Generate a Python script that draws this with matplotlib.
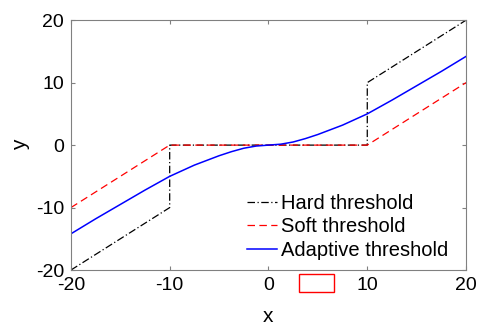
import matplotlib.pyplot as plt
from matplotlib.patches import Rectangle

plt.rcParams['font.family'] = ['Liberation Sans', 'DejaVu Sans']
plt.rcParams['axes.unicode_minus'] = False

# piecewise threshold functions
hard_x = [-20, -10, -10, 10, 10, 20]
hard_y = [-20, -10, 0, 0, 10, 20]
soft_x = [-20, -10, 10, 20]
soft_y = [-10, 0, 0, 10]
adapt_x = [-20, -17.5, -15, -12.5, -10, -7.5, -5, -3.75, -2.5, -1.25, 0,
           1.25, 2.5, 3.75, 5, 7.5, 10, 12.5, 15, 17.5, 20]
adapt_y = [-14.2, -11.8, -9.5, -7.2, -5.0, -3.2, -1.7, -1.05, -0.5, -0.15, 0,
           0.15, 0.5, 1.05, 1.7, 3.2, 5.0, 7.2, 9.5, 11.8, 14.2]
ticks = [-20, -10, 0, 10, 20]

fig = plt.figure(figsize=(4.79, 3.25), dpi=100)
ax = fig.add_axes([0.148, 0.169, 0.825, 0.769])

ax.plot(hard_x, hard_y, color='black', linestyle='-.', linewidth=0.9,
        dashes=(6, 2, 1, 2), label='Hard threshold')
ax.plot(soft_x, soft_y, color='red', linestyle='--', linewidth=0.9,
        dashes=(6, 3.5), label='Soft threshold')
ax.plot(adapt_x, adapt_y, color='blue', linewidth=1.1, label='Adaptive threshold')

ax.set_xlim(-20, 20)
ax.set_ylim(-20, 20)
ax.set_xticks(ticks)
ax.set_yticks(ticks)
ax.tick_params(direction='in', top=True, right=True, labelsize=14,
               length=3, color='#808080', pad=5)
for s in ax.spines.values():
    s.set_color('#808080')
    s.set_linewidth(0.8)
ax.set_xlabel('x', fontsize=15, labelpad=9)
ax.set_ylabel('y', fontsize=15, labelpad=4)

ax.legend(loc='lower right', frameon=False, fontsize=14.5, handlelength=1.5,
          handletextpad=0.2, labelspacing=0.22, borderaxespad=0.3,
          bbox_to_anchor=(0.99, -0.015))

# red box drawn under the axis
fig.patches.append(Rectangle((299 / 479, 1 - 292 / 325), 35 / 479, 18 / 325,
                             transform=fig.transFigure, fill=False,
                             edgecolor='red', linewidth=1.0))

fig.savefig('out.png', dpi=100)
